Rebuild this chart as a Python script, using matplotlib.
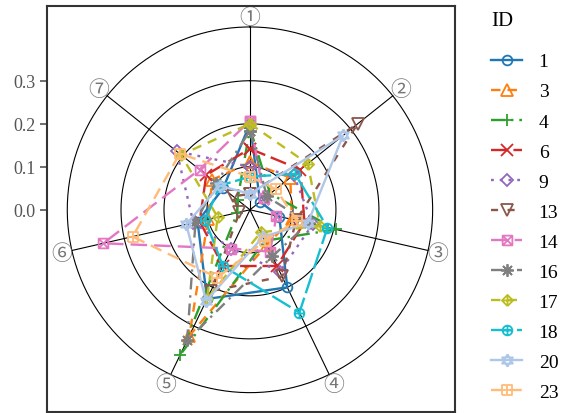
import numpy as np
import matplotlib
matplotlib.use("Agg")
import matplotlib.pyplot as plt
from matplotlib.path import Path

plt.rcParams['font.family'] = ['Liberation Serif', 'Noto Sans CJK JP', 'DejaVu Sans']

# radar axes (clockwise from top)
axis_labels = ['①', '②', '③', '④', '⑤', '⑥', '⑦']
ring_levels = [0.1, 0.2, 0.3]
outer_ring = 0.425
ytick_vals = [0.0, 0.1, 0.2, 0.3]

# values, one list per ID, axis ① .. ⑦
ids = ['1', '3', '4', '6', '9', '13', '14', '16', '17', '18', '20', '23']
r_1 = [0.200, 0.030, 0.070, 0.200, 0.230, 0.125, 0.080]
r_3 = [0.110, 0.120, 0.100, 0.090, 0.325, 0.100, 0.112]
r_4 = [0.190, 0.060, 0.205, 0.080, 0.375, 0.030, 0.037]
r_6 = [0.142, 0.150, 0.130, 0.145, 0.145, 0.120, 0.130]
r_9 = [0.100, 0.130, 0.150, 0.160, 0.100, 0.135, 0.218]
r_13 = [0.037, 0.320, 0.110, 0.172, 0.210, 0.025, 0.050]
r_14 = [0.207, 0.043, 0.063, 0.108, 0.100, 0.350, 0.150]
r_16 = [0.184, 0.050, 0.140, 0.120, 0.337, 0.130, 0.100]
r_17 = [0.200, 0.172, 0.167, 0.058, 0.230, 0.077, 0.205]
r_18 = [0.077, 0.134, 0.185, 0.265, 0.145, 0.107, 0.090]
r_20 = [0.037, 0.277, 0.138, 0.070, 0.235, 0.152, 0.090]
r_23 = [0.077, 0.077, 0.112, 0.080, 0.175, 0.280, 0.209]
series = [r_1, r_3, r_4, r_6, r_9, r_13, r_14, r_16, r_17, r_18, r_20, r_23]


def compound(*parts):
    verts, codes = [], []
    for p in parts:
        verts += p
        codes += [Path.MOVETO] + [Path.LINETO] * (len(p) - 1)
    return Path(verts, codes)


sq = [(-1, -1), (1, -1), (1, 1), (-1, 1), (-1, -1)]
dia = [(0, -1), (1, 0), (0, 1), (-1, 0), (0, -1)]
plus = [[(0, -1), (0, 1)], [(-1, 0), (1, 0)]]
box_x = compound(sq, [(-1, -1), (1, 1)], [(-1, 1), (1, -1)])
box_plus = compound(sq, *plus)
dia_plus = compound(dia, *plus)
circ_plus = Path.make_compound_path(Path.unit_circle(), compound(*plus))
t_up = [(np.cos(np.radians(a)), np.sin(np.radians(a))) for a in (90, 210, 330, 90)]
t_dn = [(np.cos(np.radians(a)), np.sin(np.radians(a))) for a in (270, 30, 150, 270)]
hexagram = compound(t_up, t_dn)

colors = ['#1f77b4', '#ff7f0e', '#2ca02c', '#d62728', '#9467bd', '#8c564b',
          '#e377c2', '#7f7f7f', '#bcbd22', '#17becf', '#aec7e8', '#ffbb78']
markers = ['o', '^', '+', 'x', 'D', 'v', box_x, (8, 2, 0), dia_plus, circ_plus,
           hexagram, box_plus]
msizes = [7, 8, 9, 8, 6.5, 8, 7, 9, 8, 7, 9, 7]
styles = ['-', (0, (4, 3)), (0, (6, 2.5, 1, 2.5)), (0, (7, 2.5)), (0, (1.2, 2.5)),
          (0, (3, 4)), (0, (7, 3)), (0, (5, 2.5, 1, 2.5)), (0, (4, 3)),
          (0, (9, 2)), '-', (0, (5, 3))]

fig = plt.figure(figsize=(5.67, 4.14), dpi=100)
ax = fig.add_axes([0.083, 0.0024, 0.7195, 0.981])

n = len(axis_labels)
theta = np.arange(n) * 2 * np.pi / n
tt = np.linspace(0, 2 * np.pi, 300)
for lv in ring_levels + [outer_ring]:
    ax.plot(lv * np.sin(tt), lv * np.cos(tt), color='black', lw=0.8, zorder=1)
for k in range(n):
    ax.plot([0, outer_ring * np.sin(theta[k])], [0, outer_ring * np.cos(theta[k])],
            color='black', lw=0.8, zorder=1)
    ax.text(0.449 * np.sin(theta[k]), 0.449 * np.cos(theta[k]), axis_labels[k],
            ha='center', va='center', fontsize=15, color='#777777',
            family=['Noto Sans CJK JP', 'DejaVu Sans'], zorder=2)

for i in range(len(ids)):
    r = np.array(series[i] + series[i][:1])
    th = np.append(theta, theta[0])
    ax.plot(r * np.sin(th), r * np.cos(th), color=colors[i], ls=styles[i], lw=1.7,
            marker=markers[i], ms=msizes[i], mfc='none', mew=1.3, label=ids[i],
            zorder=3)

ax.set_xlim(-0.472, 0.477)
ax.set_ylim(-0.470, 0.474)
ax.set_xticks([])
ax.set_yticks(ytick_vals)
ax.set_yticklabels([f'{v:.1f}' for v in ytick_vals])
ax.tick_params(axis='y', colors='#555555', labelsize=13, length=5, width=1.2)
for s in ax.spines.values():
    s.set_color('#333333')
    s.set_linewidth(1.5)

fig.text(0.867, 0.947, 'ID', fontsize=15, ha='left', va='center')
leg = fig.legend(loc='upper left', bbox_to_anchor=(0.866, 0.870), frameon=False,
                 fontsize=14, handlelength=1.6, handletextpad=0.85,
                 labelspacing=0.64, borderaxespad=0, borderpad=0)

fig.savefig('out.png', dpi=100)
